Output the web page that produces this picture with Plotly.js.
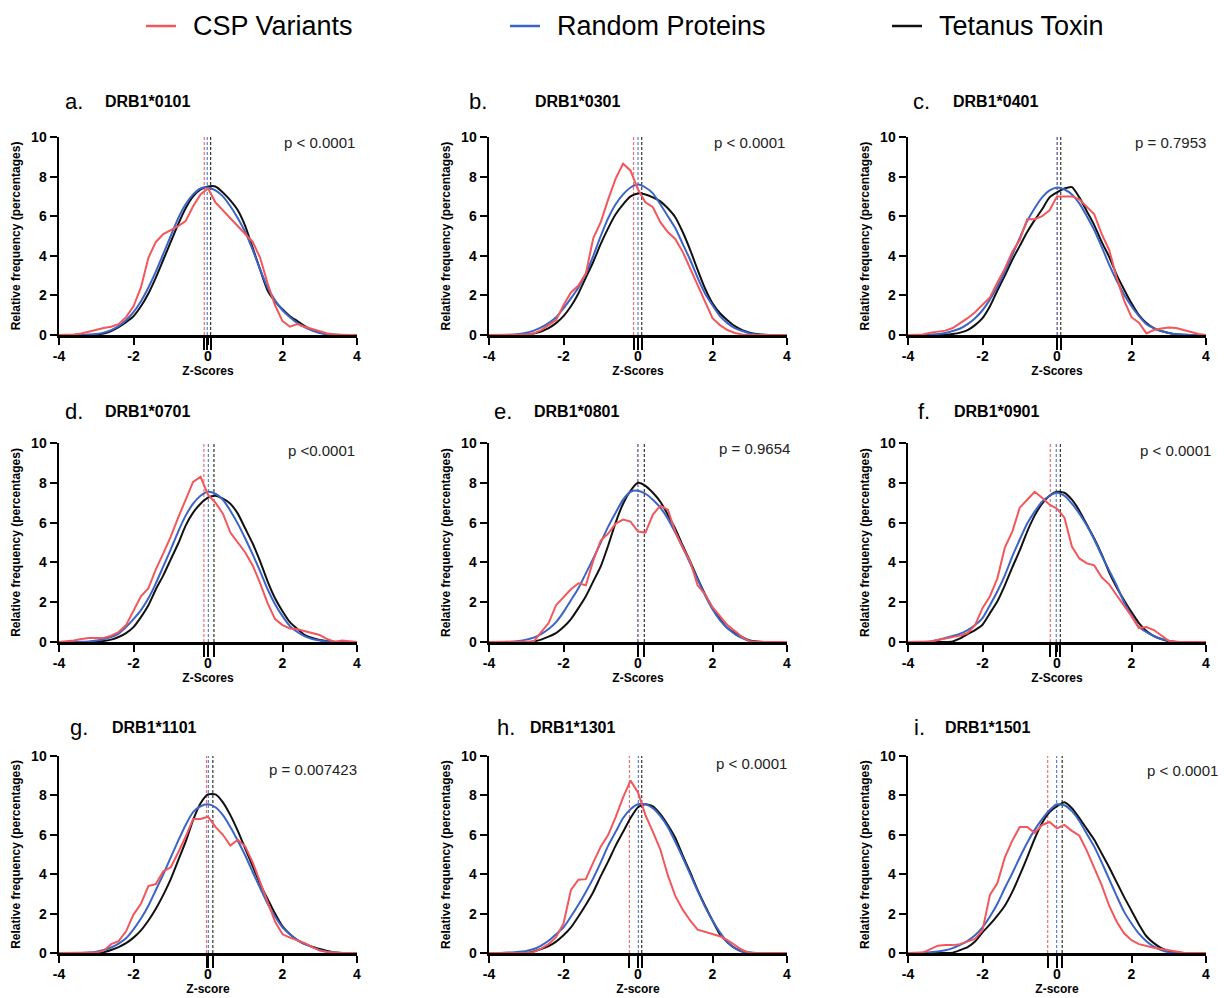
<!DOCTYPE html>
<html>
<head>
<meta charset="utf-8">
<script src="https://cdn.plot.ly/plotly-3.0.1.min.js"></script>
<style>
  html, body { margin: 0; padding: 0; background: #fff; }
  #chart { width: 1228px; height: 998px; }
</style>
</head>
<body>
<div id="chart"></div>
<script>
// Z-score grid shared by every distribution curve
const zGrid = [-4,-3.8,-3.6,-3.4,-3.2,-3,-2.8,-2.6,-2.4,-2.2,-2,-1.8,-1.6,-1.4,-1.2,-1,-0.8,-0.6,-0.4,-0.2,0,
               0.2,0.4,0.6,0.8,1,1.2,1.4,1.6,1.8,2,2.2,2.4,2.6,2.8,3,3.2,3.4,3.6,3.8,4];

// Panel labels
const panelLetters = ["a.", "b.", "c.", "d.", "e.", "f.", "g.", "h.", "i."];
const alleles = ["DRB1*0101", "DRB1*0301", "DRB1*0401", "DRB1*0701", "DRB1*0801", "DRB1*0901", "DRB1*1101", "DRB1*1301", "DRB1*1501"];
const pLabels = ["p < 0.0001", "p < 0.0001", "p = 0.7953", "p <0.0001", "p = 0.9654", "p < 0.0001", "p = 0.007423", "p < 0.0001", "p < 0.0001"];
const xTitles = ["Z-Scores", "Z-Scores", "Z-Scores", "Z-Scores", "Z-Scores", "Z-Scores", "Z-score", "Z-score", "Z-score"];
const seriesNames = ["CSP Variants", "Random Proteins", "Tetanus Toxin"];

// Mean Z-score of each group (dashed markers)
const cspMeans = [-0.1, -0.12, 0.0, -0.11, -0.01, -0.18, -0.04, -0.23, -0.25];
const rndMeans = [-0.02, 0.0, 0.01, 0.01, 0.0, -0.02, 0.01, 0.01, -0.01];
const tetMeans = [0.07, 0.1, 0.1, 0.16, 0.17, 0.09, 0.13, 0.1, 0.14];

// Relative frequency (%) — CSP variants
const csp0101 = [0,0,0.02,0.08,0.18,0.28,0.35,0.42,0.55,0.9,1.45,2.4,3.9,4.7,5.1,5.3,5.5,5.75,6.5,7.1,7.4,6.7,6.3,5.85,5.5,5.1,4.7,3.9,2.6,1.5,0.7,0.42,0.55,0.42,0.3,0.17,0.08,0.03,0,0,0];
const csp0301 = [0,0,0,0,0.01,0.03,0.08,0.25,0.5,0.75,1.5,2.15,2.5,3.1,4.9,5.7,6.85,7.9,8.65,8.3,7.35,6.7,6.45,5.7,5.2,4.85,4.2,3.35,2.5,1.65,0.85,0.5,0.25,0.1,0.03,0,0,0,0,0,0];
const csp0401 = [0,0,0.03,0.12,0.17,0.22,0.35,0.58,0.85,1.15,1.5,1.9,2.65,3.35,4.2,4.8,5.85,5.85,6.0,6.3,7.0,7.0,7.0,6.85,6.5,6.1,5.1,4.3,2.9,1.75,0.9,0.62,0.08,0.25,0.33,0.38,0.35,0.25,0.15,0.05,0];
const csp0701 = [0,0.03,0.08,0.15,0.2,0.2,0.2,0.32,0.5,0.85,1.55,2.3,2.7,3.65,4.45,5.3,6.25,7.15,8.05,8.3,7.4,7.0,6.45,5.5,5.0,4.5,3.85,2.95,1.95,1.15,0.85,0.68,0.64,0.55,0.47,0.35,0.15,0,0.07,0.02,0];
const csp0801 = [0,0,0,0,0,0,0.02,0.5,0.95,1.85,2.25,2.65,2.95,2.85,4.1,5.1,5.45,5.95,6.15,6.05,5.55,5.5,6.4,6.85,6.65,5.55,4.75,4.05,2.85,2.4,1.75,1.3,0.85,0.55,0.25,0.03,0,0,0,0,0];
const csp0901 = [0,0,0,0.02,0.1,0.18,0.25,0.32,0.45,0.85,1.7,2.3,3.2,4.75,5.55,6.75,7.15,7.55,7.25,6.9,6.7,6.25,4.8,4.2,3.95,3.85,3.25,2.9,2.35,1.85,1.3,0.7,0.75,0.6,0.35,0.06,0,0,0,0,0];
const csp1101 = [0,0,0,0,0,0.02,0.12,0.45,0.6,1.1,1.95,2.5,3.4,3.5,4.15,4.35,5.1,5.9,6.8,6.8,6.92,6.4,6.0,5.45,5.75,5.4,4.6,3.65,2.6,1.6,0.95,0.78,0.65,0.5,0.3,0.12,0.05,0.01,0,0,0];
const csp1301 = [0,0,0,0,0,0,0.05,0.22,0.45,0.8,1.5,3.2,3.72,3.75,4.6,5.4,6.0,6.9,7.9,8.75,8.15,7.0,6.15,5.25,3.95,2.9,2.2,1.65,1.18,1.08,0.98,0.85,0.66,0.4,0.15,0,0,0,0,0,0];
const csp1501 = [0,0,0.02,0.2,0.37,0.4,0.4,0.45,0.6,0.72,1.15,2.95,3.55,4.85,5.7,6.4,6.4,6.1,6.5,6.65,6.33,6.5,6.2,5.95,5.2,4.35,3.45,2.4,1.6,1.0,0.65,0.45,0.35,0.27,0.2,0.13,0.06,0.01,0,0,0];

// Relative frequency (%) — random proteins
const rnd0101 = [0,0,0,0,0.01,0.05,0.12,0.25,0.45,0.75,1.15,1.7,2.4,3.2,4.1,5.0,5.9,6.6,7.1,7.4,7.45,7.3,7.0,6.5,5.9,5.2,4.3,3.3,2.4,1.75,1.25,0.9,0.6,0.38,0.22,0.1,0.04,0.01,0,0,0];
const rnd0301 = [0,0,0,0.01,0.05,0.12,0.22,0.38,0.6,0.9,1.35,1.85,2.4,3.1,4.0,5.0,5.9,6.6,7.1,7.45,7.6,7.45,7.15,6.6,6.0,5.4,4.6,3.8,2.9,2.1,1.5,0.95,0.6,0.35,0.2,0.08,0.03,0,0,0,0];
const rnd0401 = [0,0,0,0.02,0.05,0.1,0.2,0.33,0.55,0.85,1.25,1.8,2.45,3.2,4.05,4.9,5.75,6.4,6.95,7.3,7.45,7.35,7.1,6.65,6.0,5.3,4.45,3.55,2.75,2.05,1.45,0.95,0.55,0.35,0.2,0.1,0.04,0.01,0,0,0];
const rnd0701 = [0,0,0,0.01,0.03,0.07,0.14,0.25,0.42,0.75,1.15,1.6,2.2,2.95,3.8,4.65,5.55,6.35,6.95,7.35,7.55,7.45,7.15,6.6,5.95,5.2,4.4,3.55,2.65,1.9,1.3,0.8,0.5,0.28,0.15,0.07,0.02,0,0,0,0];
const rnd0801 = [0,0,0,0.01,0.05,0.12,0.22,0.4,0.65,1.0,1.5,2.1,2.7,3.45,4.2,5.0,5.8,6.5,7.15,7.55,7.6,7.45,7.15,6.75,6.2,5.5,4.75,3.95,3.15,2.35,1.65,1.1,0.7,0.4,0.2,0.05,0,0,0,0,0];
const rnd0901 = [0,0,0,0.02,0.1,0.2,0.3,0.42,0.6,0.85,1.2,1.85,2.55,3.35,4.3,5.15,5.95,6.55,7.05,7.35,7.5,7.35,6.95,6.45,5.85,5.15,4.35,3.6,2.85,2.0,1.35,0.75,0.5,0.3,0.15,0.07,0.01,0,0,0,0];
const rnd1101 = [0,0,0,0,0.02,0.07,0.15,0.28,0.48,0.75,1.2,1.75,2.4,3.2,4.0,4.85,5.7,6.5,7.15,7.45,7.55,7.4,7.0,6.4,5.7,4.95,4.1,3.3,2.5,1.85,1.3,0.95,0.65,0.45,0.3,0.15,0.06,0.02,0,0,0];
const rnd1301 = [0,0,0.01,0.03,0.06,0.1,0.2,0.38,0.62,0.95,1.3,1.85,2.45,3.1,3.8,4.6,5.45,6.15,6.85,7.3,7.55,7.55,7.35,6.95,6.4,5.65,4.85,4.0,3.15,2.35,1.65,1.05,0.55,0.25,0.08,0.02,0,0,0,0,0];
const rnd1501 = [0,0,0.01,0.04,0.08,0.14,0.25,0.42,0.62,0.9,1.3,1.85,2.5,3.3,4.05,4.85,5.6,6.25,6.8,7.25,7.55,7.5,7.2,6.7,6.05,5.4,4.6,3.75,2.9,2.1,1.5,0.98,0.6,0.32,0.15,0.04,0,0,0,0,0];

// Relative frequency (%) — tetanus toxin
const tet0101 = [0,0,0,0,0.01,0.03,0.08,0.2,0.4,0.65,0.95,1.45,2.1,2.9,3.8,4.7,5.6,6.4,7.0,7.35,7.5,7.5,7.2,6.8,6.3,5.5,4.4,3.3,2.25,1.7,1.3,0.95,0.7,0.45,0.25,0.12,0.04,0.01,0,0,0];
const tet0301 = [0,0,0,0,0.01,0.03,0.08,0.18,0.35,0.6,0.95,1.45,2.1,2.9,3.7,4.6,5.4,6.1,6.6,7.0,7.15,7.1,6.95,6.75,6.4,5.95,5.2,4.3,3.3,2.35,1.6,1.1,0.75,0.45,0.25,0.12,0.05,0.01,0,0,0];
const tet0401 = [0,0,0,0,0,0.01,0.05,0.12,0.25,0.5,0.85,1.45,2.25,3.0,3.8,4.5,5.2,5.8,6.35,6.95,7.2,7.4,7.47,6.95,6.25,5.55,4.7,3.95,3.05,2.3,1.6,1.0,0.6,0.35,0.2,0.1,0.04,0.01,0,0,0];
const tet0701 = [0,0,0,0,0,0.02,0.05,0.12,0.25,0.45,0.75,1.25,1.85,2.65,3.35,4.15,4.95,5.85,6.5,6.95,7.25,7.35,7.2,6.95,6.45,5.7,4.95,4.05,3.05,2.2,1.55,1.0,0.65,0.35,0.2,0.1,0.04,0.01,0,0,0];
const tet0801 = [0,0,0,0,0,0,0.03,0.12,0.27,0.45,0.75,1.15,1.7,2.3,3.05,3.8,4.85,6.0,6.95,7.6,8.0,7.85,7.5,7.05,6.4,5.7,4.85,4.05,3.2,2.4,1.7,1.15,0.7,0.45,0.25,0.08,0.02,0,0,0,0];
const tet0901 = [0,0,0,0,0,0,0.03,0.18,0.4,0.6,0.87,1.45,2.05,2.85,3.75,4.6,5.55,6.35,6.95,7.35,7.55,7.5,7.15,6.6,5.9,5.2,4.4,3.5,2.75,2.1,1.5,0.95,0.55,0.3,0.15,0.04,0,0,0,0,0];
const tet1101 = [0,0,0,0,0,0,0.04,0.15,0.3,0.5,0.78,1.15,1.65,2.25,2.95,3.75,4.7,5.65,6.75,7.6,8.05,8.05,7.65,7.0,6.2,5.3,4.4,3.5,2.75,2.0,1.35,0.95,0.65,0.45,0.32,0.2,0.1,0.03,0,0,0];
const tet1301 = [0,0,0,0,0,0,0.08,0.2,0.35,0.58,0.9,1.3,1.85,2.45,3.1,3.9,4.65,5.45,6.15,6.85,7.4,7.55,7.45,7.05,6.5,5.85,4.95,4.1,3.2,2.4,1.65,0.95,0.55,0.25,0.08,0.01,0,0,0,0,0];
const tet1501 = [0,0,0,0,0,0,0.02,0.15,0.3,0.58,1.05,1.45,1.9,2.4,3.1,3.95,4.85,5.8,6.6,7.15,7.45,7.65,7.35,6.85,6.3,5.75,5.05,4.35,3.6,2.85,2.15,1.45,0.85,0.5,0.25,0.1,0.03,0,0,0,0];

const cspSeries = [csp0101, csp0301, csp0401, csp0701, csp0801, csp0901, csp1101, csp1301, csp1501];
const rndSeries = [rnd0101, rnd0301, rnd0401, rnd0701, rnd0801, rnd0901, rnd1101, rnd1301, rnd1501];
const tetSeries = [tet0101, tet0301, tet0401, tet0701, tet0801, tet0901, tet1101, tet1301, tet1501];

// ---- styling / layout ----
const W = 1228, H = 998;
const FONT = "Liberation Sans, Arial, Helvetica, sans-serif";
const RED = "#f2575b", BLUE = "#3a64c6", BLACK = "#111111";
const lineColors = [RED, BLUE, BLACK];
const dashColors = ["#ee6f72", "#5c7fd0", "#333333"];

// plot-area pixel boxes per column / row
const colPx = [[59, 357], [489, 787], [908, 1206]];
const rowPx = [[137, 335], [443, 642], [756, 953]];
// panel heading positions: letter x, allele x, centre y
const letterX = [63, 467, 911, 63, 492, 916, 68, 495, 912];
const alleleX = [103, 533, 951, 103, 532, 952, 110, 528, 943];
const headY = [102, 102, 102, 412, 412, 412, 727, 727, 727];
// p-value text: right edge and centre y
const pRight = [357, 787, 1208, 357, 792, 1213, 359, 789, 1220];
const pY = [143, 143, 143, 450, 448, 451, 769, 763, 770];
// key row across the top: stroke start x per entry, centre y
const keyX = [146, 510, 892];
const keyY = 26;

const traces = [];
const layout = {
  width: W, height: H,
  margin: {l: 0, r: 0, t: 0, b: 0},
  paper_bgcolor: "#fff", plot_bgcolor: "rgba(0,0,0,0)",
  font: {family: FONT, color: "#000"},
  showlegend: false,
  annotations: [],
  shapes: []
};

// key: short coloured stroke followed by the series name
seriesNames.forEach((name, k) => {
  layout.shapes.push({
    type: "line", xref: "paper", yref: "paper",
    x0: keyX[k] / W, x1: (keyX[k] + 30) / W, y0: 1 - keyY / H, y1: 1 - keyY / H,
    line: {color: lineColors[k], width: 2.5}
  });
  layout.annotations.push({
    xref: "paper", yref: "paper", x: (keyX[k] + 45) / W, y: 1 - keyY / H,
    xanchor: "left", yanchor: "middle", showarrow: false,
    text: name, font: {family: FONT, size: 27, color: "#000"}
  });
});

for (let i = 0; i < 9; i++) {
  const r = Math.floor(i / 3), c = i % 3;
  const s = i === 0 ? "" : String(i + 1);
  const xa = "x" + s, ya = "y" + s;
  const means = [cspMeans[i], rndMeans[i], tetMeans[i]];
  const series = [cspSeries[i], rndSeries[i], tetSeries[i]];

  // draw tetanus first so CSP sits on top
  [2, 1, 0].forEach(k => {
    traces.push({
      x: zGrid, y: series[k], xaxis: xa, yaxis: ya,
      type: "scatter", mode: "lines", name: seriesNames[k],
      line: {color: lineColors[k], width: 2, shape: k === 0 ? "linear" : "spline", smoothing: 0.6},
      cliponaxis: false, hoverinfo: "skip"
    });
  });

  layout["xaxis" + s] = {
    domain: [colPx[c][0] / W, colPx[c][1] / W], range: [-4, 4], anchor: ya,
    tickmode: "array", tickvals: [-4, -2, 0, 2, 4], ticktext: ["-4", "-2", "0", "2", "4"],
    ticks: "outside", ticklen: 7, tickwidth: 2, tickcolor: "#000",
    showline: true, linewidth: 2.5, linecolor: "#000", mirror: false,
    showgrid: false, zeroline: false, layer: "below traces",
    tickfont: {family: FONT, size: 14, color: "#000", weight: "bold"},
    title: {text: xTitles[i], font: {family: FONT, size: 12, color: "#000", weight: "bold"}, standoff: 4},
    minor: {tickmode: "array", tickvals: means, ticks: "outside", ticklen: 12, tickwidth: 2, tickcolor: "#000", showgrid: false},
    fixedrange: true
  };
  layout["yaxis" + s] = {
    domain: [1 - rowPx[r][1] / H, 1 - rowPx[r][0] / H], range: [0, 10], anchor: xa,
    tickmode: "array", tickvals: [0, 2, 4, 6, 8, 10],
    ticks: "outside", ticklen: 7, tickwidth: 2, tickcolor: "#000",
    showline: true, linewidth: 2.5, linecolor: "#000",
    showgrid: false, zeroline: false, layer: "below traces",
    tickfont: {family: FONT, size: 14, color: "#000", weight: "bold"},
    title: {text: "Relative frequency (percentages)", font: {family: FONT, size: 12, color: "#000", weight: "bold"}, standoff: 8},
    fixedrange: true
  };

  // dashed mean markers
  means.forEach((m, k) => {
    layout.shapes.push({
      type: "line", xref: xa, yref: ya, x0: m, x1: m, y0: 0, y1: 10,
      line: {color: dashColors[k], width: 1.2, dash: "3px,2px"}, layer: "below"
    });
  });

  // panel heading
  layout.annotations.push({
    xref: "paper", yref: "paper", x: letterX[i] / W, y: 1 - headY[i] / H,
    xanchor: "left", yanchor: "middle", showarrow: false,
    text: panelLetters[i], font: {family: FONT, size: 22, color: "#000"}
  });
  layout.annotations.push({
    xref: "paper", yref: "paper", x: alleleX[i] / W, y: 1 - headY[i] / H,
    xanchor: "left", yanchor: "middle", showarrow: false,
    text: alleles[i], font: {family: FONT, size: 16, color: "#000", weight: "bold"}
  });
  // p-value
  layout.annotations.push({
    xref: "paper", yref: "paper", x: pRight[i] / W, y: 1 - pY[i] / H,
    xanchor: "right", yanchor: "middle", showarrow: false,
    text: pLabels[i], font: {family: FONT, size: 15, color: "#222"}
  });
}

Plotly.newPlot("chart", traces, layout, {displayModeBar: false, staticPlot: true});
</script>
</body>
</html>
